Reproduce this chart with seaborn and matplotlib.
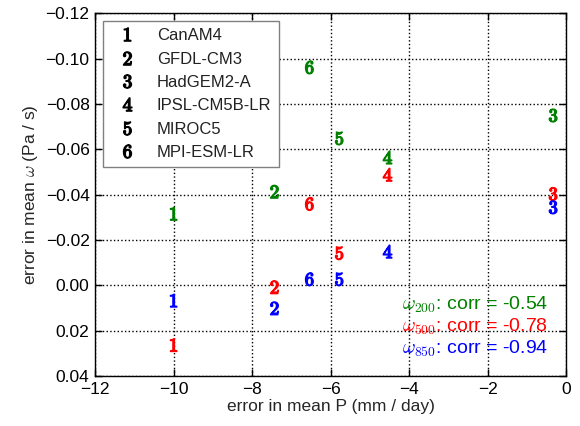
import numpy as np
import pandas as pd
import matplotlib
matplotlib.use("Agg")
import matplotlib.pyplot as plt
import seaborn as sns
from matplotlib.lines import Line2D

# model errors in mean precipitation (mm/day)
models = ['CanAM4', 'GFDL-CM3', 'HadGEM2-A', 'IPSL-CM5B-LR', 'MIROC5', 'MPI-ESM-LR']
numbers = ['1', '2', '3', '4', '5', '6']
err_P = [-10.0, -7.43, -0.33, -4.55, -5.78, -6.54]

# errors in mean omega (Pa/s) at three levels
err_w200 = [-0.0316, -0.0413, -0.0749, -0.0564, -0.0648, -0.0961]
err_w500 = [0.0263, 0.0008, -0.0403, -0.0488, -0.0142, -0.0359]
err_w850 = [0.0067, 0.0101, -0.0344, -0.0149, -0.0027, -0.0027]

levels = ['200', '500', '850']
corrs = ['-0.54', '-0.78', '-0.94']
level_colors = ['#008000', '#ff0000', '#0000ff']

df = pd.concat([
    pd.DataFrame({'P': err_P, 'w': vals, 'model': models, 'level': lev})
    for lev, vals in zip(levels, [err_w200, err_w500, err_w850])
])

sns.set_style('ticks')
plt.rcParams['font.family'] = ['Liberation Sans', 'DejaVu Sans']
plt.rcParams['mathtext.fontset'] = 'cm'
plt.rcParams['axes.unicode_minus'] = True

fig = plt.figure(figsize=(5.8, 4.26), dpi=100)
ax = fig.add_axes([0.164, 0.117, 0.812, 0.852])

marker_map = {m: r'$\mathbf{%s}$' % n for m, n in zip(models, numbers)}
sns.scatterplot(data=df, x='P', y='w', hue='level', style='model',
                palette=dict(zip(levels, level_colors)), markers=marker_map,
                s=85, linewidth=1, edgecolor='face', legend=False, ax=ax, zorder=3)

ax.set_xlim(-12, 0)
ax.set_ylim(0.04, -0.12)
ax.set_xticks(np.arange(-12, 0.1, 2))
ax.set_yticks(np.arange(-0.12, 0.041, 0.02))
ax.yaxis.set_major_formatter(matplotlib.ticker.FuncFormatter(
    lambda v, p: ('%.2f' % v).replace('-', '\u2212') if abs(v) > 1e-9 else '0.00'))
ax.xaxis.set_major_formatter(matplotlib.ticker.FuncFormatter(
    lambda v, p: ('%d' % round(v)).replace('-', '\u2212')))
ax.tick_params(direction='in', top=True, right=True, length=5, width=1,
               labelsize=12.5, colors='black', pad=4)
ax.grid(True, linestyle=':', color='black', linewidth=1)
ax.set_axisbelow(True)
for sp in ax.spines.values():
    sp.set_color('black')
    sp.set_linewidth(1)

ax.set_xlabel('error in mean P (mm / day)', fontsize=12.5, labelpad=2)
ax.set_ylabel(r'error in mean $\omega$ (Pa / s)', fontsize=12.5, labelpad=4)

handles = [Line2D([], [], linestyle='none', marker=marker_map[m], color='black',
                  markersize=9.5) for m in models]
leg = ax.legend(handles, models, loc='upper left', fontsize=12, frameon=True,
                fancybox=False, edgecolor='gray', borderaxespad=0.45,
                handletextpad=0.8, labelspacing=0.5, borderpad=0.45,
                handlelength=2.0, framealpha=1)
leg.get_frame().set_linewidth(1)
for t in leg.get_texts():
    t.set_color('#222222')

for i, (lev, c, col) in enumerate(zip(levels, corrs, level_colors)):
    ax.text(0.962, 0.196 - i * 0.061, r'$\omega_{%s}$: corr = %s' % (lev, c),
            transform=ax.transAxes, ha='right', va='center', color=col,
            fontsize=14, zorder=4)

fig.savefig('out.png', dpi=100)
